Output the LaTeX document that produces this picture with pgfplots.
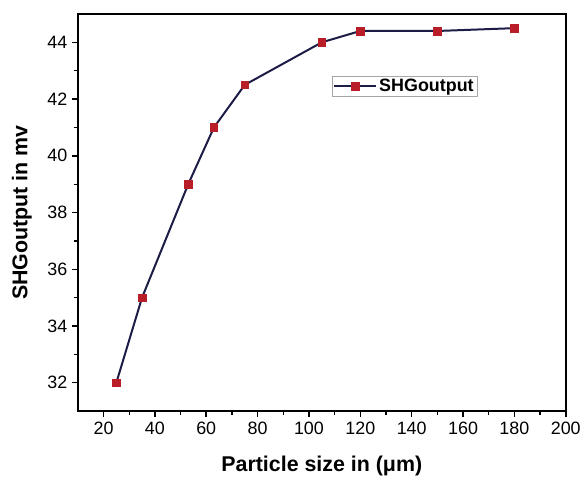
\documentclass[border=0pt]{standalone}
\usepackage{pgfplots}
\pgfplotsset{compat=1.18}
\usepackage{fontspec}
\setmainfont{Liberation Sans}
\definecolor{lineblue}{RGB}{28,28,70}
\definecolor{markred}{RGB}{185,30,40}
\pgfkeys{/pgf/number format/assume math mode=true}
\begin{document}
\begin{tikzpicture}
\begin{axis}[
  scale only axis,
  width=489bp, height=398bp,
  xmin=10, xmax=200, ymin=31, ymax=45,
  clip=false,
  xtick={20,40,...,200},
  ytick={32,34,...,44},
  minor xtick={30,50,...,190},
  minor ytick={33,35,...,43},
  tick align=outside,
  xtick pos=left, ytick pos=left,
  major tick length=6bp, minor tick length=3.5bp,
  major tick style={black, line width=1.5bp},
  minor tick style={black, line width=1.3bp},
  axis line style={black, line width=2bp},
  ticklabel style={font=\fontsize{18}{21}\selectfont},
  xticklabel style={yshift=-1bp},
  yticklabel style={xshift=-1bp},
  xlabel={Particle size in (μm)},
  ylabel={SHGoutput in mv},
  label style={font=\fontsize{21.5}{24}\selectfont\bfseries},
  xlabel style={at={(axis description cs:0.5,-0.138)}, anchor=center},
  ylabel style={at={(axis description cs:-0.1145,0.5)}, anchor=center},
  legend style={at={(0.52,0.845)}, anchor=north west, draw=gray!70, line width=0.7bp,
    font=\fontsize{18}{20}\selectfont\bfseries, inner xsep=1.5bp, inner ysep=1.5bp,
    row sep=0bp},
  legend image code/.code={\draw[mark repeat=2,mark phase=2] plot coordinates {(0cm,0cm) (0.74cm,0cm) (1.48cm,0cm)};},
]
\addplot[black, line width=2bp, forget plot, line join=miter]
  coordinates {(10,31) (200,31) (200,45) (10,45) (10,31)} -- cycle;
\addplot[color=lineblue, line width=2bp, mark=square*, mark size=3.8bp,
  mark options={fill=markred, draw=markred, solid, line width=0.5bp}]
  coordinates {(25,32) (35,35) (53,39) (63,41) (75,42.5) (105,44) (120,44.4) (150,44.4) (180,44.5)};
\addlegendentry{SHGoutput}
\end{axis}
\path (-78bp,-69bp) (506bp,412bp);
\end{tikzpicture}
\end{document}
